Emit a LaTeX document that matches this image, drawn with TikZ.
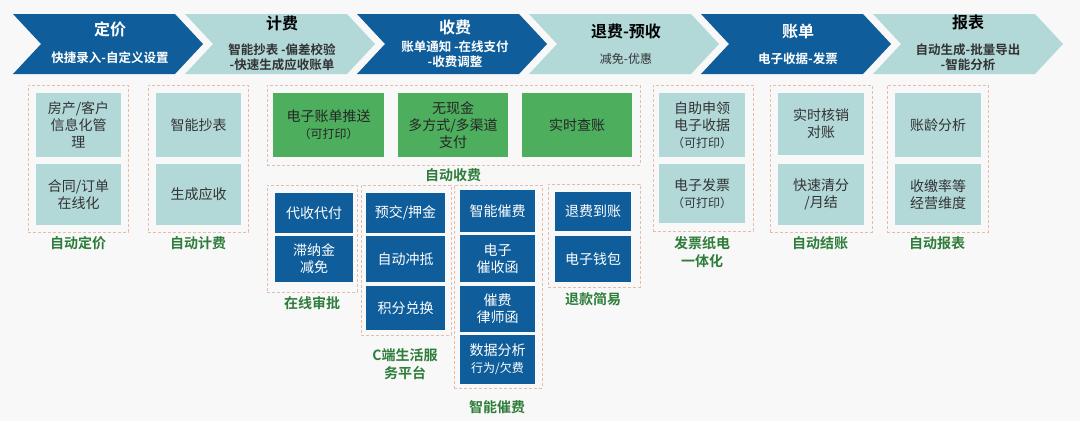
\documentclass[tikz,border=0pt]{standalone}
\usepackage{fontspec}
\setmainfont{Noto Sans CJK SC}[BoldFont={Noto Sans CJK SC Bold}]
\definecolor{dblue}{HTML}{0F5E9B}
\definecolor{teal1}{HTML}{B2D8D8}
\definecolor{gbox}{HTML}{4DAE5D}
\definecolor{glab}{HTML}{2E7D3A}
\definecolor{dash1}{HTML}{E6BCAB}
\definecolor{bg}{HTML}{F8F8F8}
\definecolor{txt}{HTML}{333333}
\tikzset{
  chevdark/.style={fill=dblue},
  chevlight/.style={fill=teal1},
  ttl/.style={font=\bfseries\fontsize{16}{18}\selectfont, align=center},
  sub/.style={font=\bfseries\fontsize{12.5}{15}\selectfont, align=center},
  tbox/.style={fill=teal1, text=txt, inner sep=0pt, align=center, font=\fontsize{14}{17}\selectfont},
  bbox/.style={fill=dblue, text=white, inner sep=0pt, align=center, font=\fontsize{14}{17}\selectfont},
  gbx/.style={fill=gbox, text=black!85, inner sep=0pt, align=center, font=\fontsize{14}{17}\selectfont},
  grp/.style={draw=dash1, dash pattern=on 3pt off 2pt, line width=0.8pt, inner sep=0pt},
  glabel/.style={text=glab, font=\bfseries\fontsize{14}{18}\selectfont, align=center},
}
\newcommand{\chev}[2]{\fill[#2] (#1,14) -- ++(162,0) -- ++(28,30) -- ++(-28,30) -- ++(-162,0) -- ++(28,-30) -- cycle;}
\newcommand{\bx}[7]{\node[#1, minimum width={(#5-#3)*1pt}, minimum height={(#6-#4)*1pt}] (#2) at ({(#3+#5)/2},{(#4+#6)/2}) {#7};}
\newcommand{\smtxt}{\fontsize{12}{15}\selectfont}
\begin{document}
\begin{tikzpicture}[x=1pt,y=-1pt]
\fill[bg] (0,0) rectangle (1080,421);
\useasboundingbox (0,0) rectangle (1080,421);
% chevrons
\chev{13}{chevdark}
\chev{185}{chevlight}
\chev{357}{chevdark}
\chev{529}{chevlight}
\chev{701}{chevdark}
\chev{873}{chevlight}
\node[ttl, text=white] (t1) at (110,29) {定价};
\node[sub, text=white] (s1) at (110,58) {快捷录入-自定义设置};
\node[ttl, text=black] (t2) at (282,23) {计费};
\node[sub, text=txt] (s2) at (282,57) {智能抄表 -偏差校验\\-快速生成应收账单};
\node[ttl, text=white] (t3) at (455,27) {收费};
\node[sub, text=white] (s3) at (455,54) {账单通知 -在线支付\\-收费调整};
\node[ttl, text=black] (t4) at (626,31) {退费-预收};
\node[sub, text=txt, font=\fontsize{12}{15}\selectfont] (s4) at (626,59) {减免-优惠};
\node[ttl, text=white] (t5) at (798,31) {账单};
\node[sub, text=white] (s5) at (798,59) {电子收据-发票};
\node[ttl, text=black] (t6) at (968,22) {报表};
\node[sub, text=txt] (s6) at (968,57) {自动生成-批量导出\\-智能分析};
% group 1
\bx{grp}{g1}{28}{85}{128}{232}{}
\bx{tbox}{a1}{36}{93}{121}{157}{房产/客户\\信息化管\\理}
\bx{tbox}{a2}{36}{164}{121}{225}{合同/订单\\在线化}
\node[glabel] (l1) at (78,243) {自动定价};
% group 2
\bx{grp}{g2}{148}{85}{248}{232}{}
\bx{tbox}{b1}{156}{93}{241}{157}{智能抄表}
\bx{tbox}{b2}{156}{164}{241}{225}{生成应收}
\node[glabel] (l2) at (198,243) {自动计费};
% group 3
\bx{grp}{g3}{267}{85}{640}{165}{}
\bx{gbx}{c1}{273}{93}{384}{157}{电子账单推送\\{\smtxt （可打印）}}
\bx{gbx}{c2}{398}{93}{508}{157}{无现金\\多方式/多渠道\\支付}
\bx{gbx}{c3}{522}{93}{632}{157}{实时查账}
\node[glabel] (l3) at (453,175) {自动收费};
% 在线审批
\bx{grp}{g4}{267}{185}{357}{292}{}
\bx{bbox}{d1}{275}{193}{353}{233}{代收代付}
\bx{bbox}{d2}{275}{236}{353}{282}{滞纳金\\减免}
\node[glabel] (l4) at (312,303) {在线审批};
% C端
\bx{grp}{g5}{361}{185}{451}{335}{}
\bx{bbox}{e1}{366}{193}{445}{233}{预交/押金}
\bx{bbox}{e2}{366}{236}{445}{282}{自动冲抵}
\bx{bbox}{e3}{366}{286}{445}{330}{积分兑换}
\node[glabel] (l5) at (405,364) {C端生活服\\务平台};
% 智能催费
\bx{grp}{g6}{454}{185}{542}{388}{}
\bx{bbox}{f1}{460}{190}{535}{232}{智能催费}
\bx{bbox}{f2}{460}{235}{535}{282}{电子\\催收函}
\bx{bbox}{f3}{460}{286}{535}{332}{催费\\律师函}
\bx{bbox}{f4}{460}{335}{535}{384}{数据分析\\{\smtxt 行为/欠费}}
\node[glabel] (l6) at (497,407) {智能催费};
% 退款简易
\bx{grp}{g7}{548}{184}{640}{287}{}
\bx{bbox}{h1}{555}{192}{631}{231}{退费到账}
\bx{bbox}{h2}{555}{236}{631}{282}{电子钱包}
\node[glabel] (l7) at (593,299) {退款简易};
% 发票
\bx{grp}{g8}{653}{85}{753}{231}{}
\bx{tbox}{i1}{659}{93}{745}{157}{自助申领\\电子收据\\{\smtxt （可打印）}}
\bx{tbox}{i2}{659}{164}{745}{223}{电子发票\\{\smtxt （可打印）}}
\node[glabel] (l8) at (702,252) {发票纸电\\一体化};
% 自动结账
\bx{grp}{g9}{770}{85}{872}{232}{}
\bx{tbox}{j1}{778}{93}{864}{155}{实时核销\\对账}
\bx{tbox}{j2}{778}{164}{864}{225}{快速清分\\/月结}
\node[glabel] (l9) at (820,243) {自动结账};
% 自动报表
\bx{grp}{g10}{887}{85}{988}{232}{}
\bx{tbox}{k1}{895}{93}{981}{157}{账龄分析}
\bx{tbox}{k2}{895}{164}{981}{225}{收缴率等\\经营维度}
\node[glabel] (l10) at (937,243) {自动报表};
\end{tikzpicture}
\end{document}
